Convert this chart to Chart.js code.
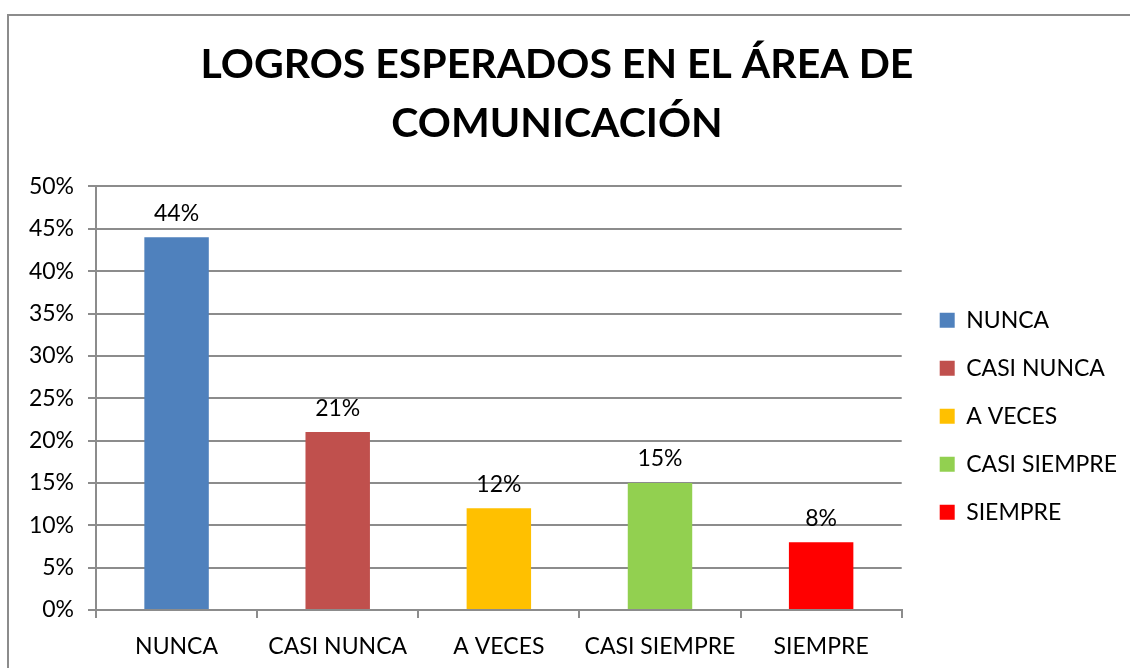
<!DOCTYPE html>
<html>
<head>
<meta charset="utf-8">
<script src="https://cdn.jsdelivr.net/npm/chart.js@4"></script>
<style>
  body { margin: 0; background: #fff; }
  #frame { position: absolute; left: 7px; top: 14px; width: 1130px; height: 668px; border-left: 2px solid #8c8c8c; border-top: 2px solid #8c8c8c; }
  #wrap { position: absolute; left: 0; top: 0; width: 1130px; height: 668px; }
</style>
</head>
<body>
<div id="frame"></div>
<div id="wrap"><canvas id="chart" width="1130" height="668"></canvas></div>
<script>
const categories = ['NUNCA', 'CASI NUNCA', 'A VECES', 'CASI SIEMPRE', 'SIEMPRE'];
const values = [0.44, 0.21, 0.12, 0.15, 0.08];
const colors = ['#4F81BD', '#C0504D', '#FFC000', '#92D050', '#FF0000'];
const titleLines = ['LOGROS ESPERADOS EN EL ÁREA DE', 'COMUNICACIÓN'];

const FONT = 'Lato';
const GRID = '#8c8c8c';

// etiquetas encima de cada barra
const valueLabels = {
    id: 'valueLabels',
    afterDatasetsDraw(chart) {
        const ctx = chart.ctx;
        const meta = chart.getDatasetMeta(0);
        ctx.save();
        ctx.font = '23px ' + FONT;
        ctx.fillStyle = '#000';
        ctx.textAlign = 'center';
        ctx.textBaseline = 'middle';
        meta.data.forEach((bar, i) => {
            ctx.fillText(Math.round(values[i] * 100) + '%', bar.x, bar.y - 24);
        });
        ctx.restore();
    }
};

// la leyenda va un poco mas abajo y a la derecha
const legendShift = {
    id: 'legendShift',
    afterLayout(chart) {
        const l = chart.legend;
        l.top += 18; l.bottom += 18;
        l.left += 13; l.right += 13;
    }
};

new Chart(document.getElementById('chart').getContext('2d'), {
    type: 'bar',
    data: {
        labels: categories,
        datasets: [{ data: values, backgroundColor: colors, borderWidth: 0, categoryPercentage: 1, barPercentage: 0.4 }]
    },
    options: {
        responsive: false,
        animation: false,
        layout: { padding: { left: 0, right: 16, top: 36, bottom: 0 } },
        plugins: {
            tooltip: { enabled: false },
            title: {
                display: true,
                text: titleLines,
                color: '#000',
                font: { family: FONT, size: 41, weight: 'bold', lineHeight: 1.42 },
                padding: { top: 0, bottom: 34 }
            },
            legend: {
                position: 'right',
                fullSize: false,
                labels: {
                    color: '#000',
                    font: { family: FONT, size: 23 },
                    boxWidth: 15, boxHeight: 15,
                    padding: 25,
                    generateLabels: () => categories.map((c, i) => ({
                        text: c, fillStyle: colors[i], strokeStyle: colors[i], lineWidth: 0, index: i
                    }))
                }
            }
        },
        scales: {
            x: {
                grid: { display: true, drawOnChartArea: false, offset: true, color: GRID, lineWidth: 2, tickLength: 8 },
                border: { color: GRID, width: 2 },
                ticks: { color: '#000', font: { family: FONT, size: 23 }, padding: 15 },
                afterFit: s => { s.height = 58; }
            },
            y: {
                min: 0, max: 0.5,
                grid: { color: GRID, lineWidth: 2, tickLength: 8 },
                border: { color: GRID, width: 2 },
                ticks: {
                    stepSize: 0.05, color: '#000', font: { family: FONT, size: 23 }, padding: 14,
                    callback: v => Math.round(v * 100) + '%'
                },
                afterFit: s => { s.width = 96; }
            }
        }
    },
    plugins: [valueLabels, legendShift]
});
</script>
</body>
</html>
